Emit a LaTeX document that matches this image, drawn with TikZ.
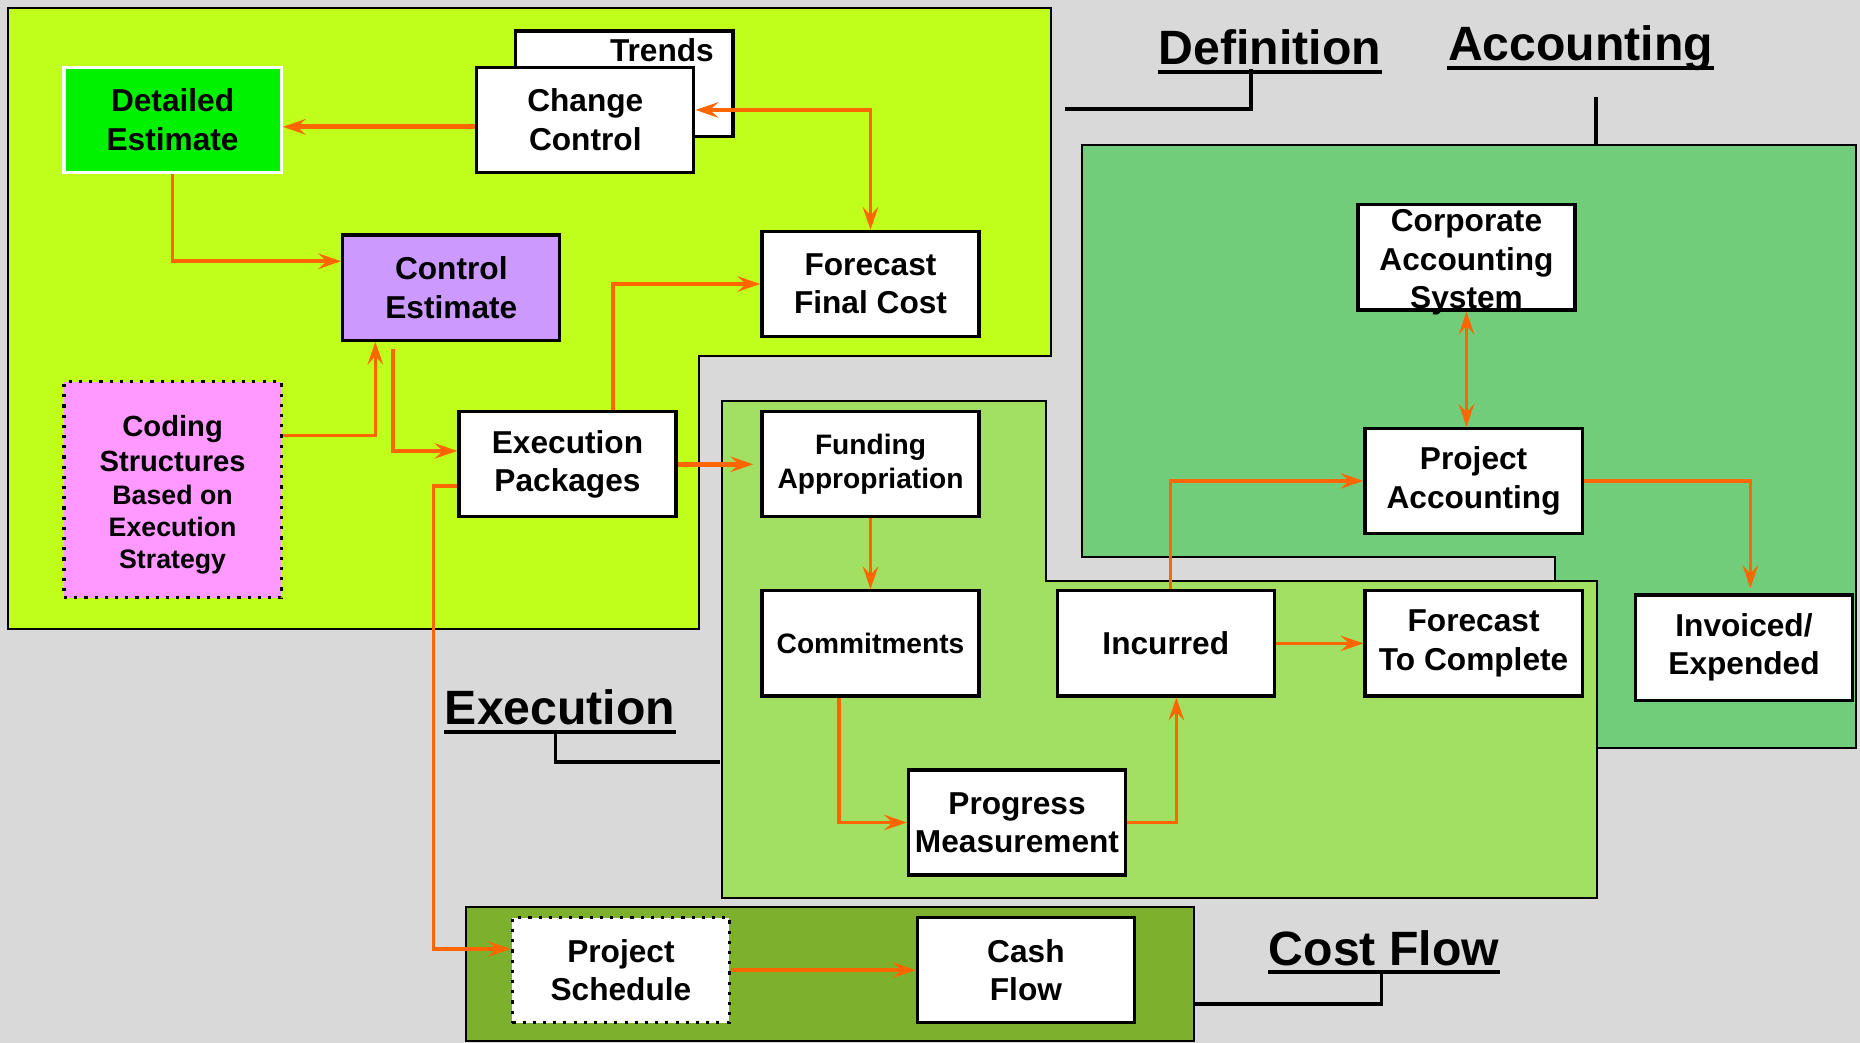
\documentclass[tikz,border=0pt]{standalone}
\usepackage{fontspec}
\setmainfont{Liberation Sans}
\usetikzlibrary{arrows.meta,calc}
\definecolor{fond}{RGB}{217,217,217}
\definecolor{zdef}{RGB}{192,255,28}
\definecolor{zacc}{RGB}{114,205,122}
\definecolor{zexe}{RGB}{162,224,100}
\definecolor{zcf}{RGB}{125,176,45}
\definecolor{vert}{RGB}{0,242,0}
\definecolor{lavande}{RGB}{204,153,255}
\definecolor{rose}{RGB}{255,153,255}
\definecolor{orange}{RGB}{255,102,0}
\newcommand{\boxfont}{\bfseries\fontsize{9}{10.9}\selectfont}
\newcommand{\petitfont}{\bfseries\fontsize{8}{9.7}\selectfont}
\newcommand{\codefont}{\bfseries\fontsize{7.6}{9.1}\selectfont}
\newcommand{\titrefont}{\bfseries\fontsize{13.7}{16}\selectfont}
\tikzset{zone/.style={draw=black, line width=0.7pt},
	box/.style={draw=black, line width=0.9pt, fill=white, minimum width=2.17cm, minimum height=1.05cm, inner sep=1pt, align=center, font=\boxfont},
	flow/.style={draw=orange, line width=1pt, -{Stealth[length=6.5pt,width=4.4pt,inset=2.4pt]}},
	flowboth/.style={flow, {Stealth[length=6.5pt,width=4.4pt,inset=2.4pt]}-{Stealth[length=6.5pt,width=4.4pt,inset=2.4pt]}},
	epais/.style={line width=1.35pt},
	titre/.style={font=\titrefont, inner sep=0pt},
	souligne/.style={line width=1.1pt},
	rappel/.style={line width=0.9pt}}

\begin{document}
\begin{tikzpicture}[x=0.01cm, y=-0.01cm]
	% fond gris
	\fill[fond] (0,0) rectangle (1860,1043);
	% les 4 zones
	\filldraw[zone, fill=zdef] (8,8) -- (1051,8) -- (1051,356) -- (699,356) -- (699,629) -- (8,629) -- cycle; % definition
	\filldraw[zone, fill=zacc] (1082,145) -- (1856,145) -- (1856,748) -- (1597,748) -- (1597,581) -- (1555,581) -- (1555,557) -- (1082,557) -- cycle; % accounting
	\filldraw[zone, fill=zexe] (722,401) -- (1046,401) -- (1046,581) -- (1597,581) -- (1597,898) -- (722,898) -- cycle; % execution
	\filldraw[zone, fill=zcf] (466,907) rectangle (1194,1041); % cost flow
	% les boites
	\node[box, fill=vert, draw=white] (de) at (172.6,119.8) {Detailed\\Estimate};
	\node[box] (tr) at (624.4,83.6) {};
	\node[anchor=north east, inner sep=0pt, font=\boxfont] (trt) at ([xshift=-5.7pt,yshift=-2.3pt]tr.north east) {Trends};
	\node[box] (cc) at (585.3,119.8) {Change\\Control};
	\node[box, fill=lavande] (ce) at (451.3,287.6) {Control\\Estimate};
	\node[box] (ffc) at (870.5,284) {Forecast\\Final Cost};
	\node[box, fill=rose, dotted, minimum height=2.16cm] (cs) at (172.6,489.8) {};
	\node[inner sep=0pt, align=center, font=\codefont] (cst) at ([yshift=-1.4pt]cs.center)
		{{\fontsize{8.3}{10}\selectfont Coding}\\[0.9pt]{\fontsize{8.3}{10}\selectfont Structures}\\[0.4pt]Based on\\Execution\\Strategy};
	\node[box] (ep) at (567.5,464.3) {Execution\\Packages};
	\node[box, font=\petitfont] (fa) at (870.5,464.3) {Funding\\Appropriation};
	\node[box, font=\petitfont] (cm) at (870.5,643.4) {Commitments};
	\node[box] (inc) at (1165.8,643.4) {Incurred};
	\node[box] (ftc) at (1473.6,643.4) {Forecast\\To Complete};
	\node[box] (pm) at (1017,822.5) {Progress\\Measurement};
	\node[box] (cas) at (1466.5,257.4) {};
	\node[inner sep=0pt, align=center, font=\boxfont] (cast) at ([yshift=-1.4pt]cas.center) {Corporate\\Accounting\\System};
	\node[box] (pa) at (1473.6,480.9) {Project\\Accounting};
	\node[box] (ie) at (1744,647.6) {Invoiced/\\Expended};
	\node[box, dotted] (ps) at (620.9,970.1) {Project\\Schedule};
	\node[box] (cf) at (1025.9,970.1) {Cash\\Flow};
	% les fleches
	\coordinate (c1) at ([yshift=-2pt]cc.west);
	\draw[flow, epais] (c1) -- (c1 -| de.east);
	\draw[flowboth] ([yshift=2.8pt]cc.east) -| (ffc.north);
	\draw[flow] (de.south) |- ([yshift=7.5pt]ce.west);
	\draw[flow] ([yshift=15.5pt]cs.east) -| ([xshift=-21.6pt]ce.south);
	\draw[flow] ([xshift=-16.6pt,yshift=-2pt]ce.south) |- ([yshift=3.8pt]ep.west);
	\draw[flow] ([xshift=12.9pt]ep.north) |- (ffc.west);
	\draw[flow, epais, shorten >=2pt] (ep.east) -- (fa.west);
	\draw[flow] ([yshift=-6.2pt]ep.west) -- ++(-24,0) |- ([yshift=6pt]ps.west);
	\draw[flow] (fa.south) -- (cm.north);
	\draw[flow] ([xshift=-9pt]cm.south) |- (pm.west);
	\draw[flow] (pm.east) -| ([xshift=3pt]inc.south);
	\draw[flow] (inc.east) -- (ftc.west);
	\draw[flow] ([xshift=1.4pt]inc.north) |- (pa.west);
	\draw[flowboth] (cas.south) -- (cas.south |- pa.north);
	\draw[flow, shorten >=1.5pt] (pa.east) -| ([xshift=1.8pt]ie.north);
	\draw[flow, epais] (ps.east) -- (cf.west);
	% les titres soulignes
	\node[titre, anchor=base] (tdef) at (1270,65) {Definition};
	\node[titre, anchor=base] (tacc) at (1580.5,61) {Accounting};
	\node[titre, anchor=base] (texe) at (560,725) {Execution};
	\node[titre, anchor=base] (tcf) at (1384,965) {Cost Flow};
	\foreach \t in {tdef,tacc,texe,tcf}
		\draw[souligne] ([yshift=-2pt]\t.base west) -- ([yshift=-2pt]\t.base east);
	% les traits de rappel
	\coordinate (kdef) at (1065,109);
	\draw[rappel] (kdef) -| ([xshift=-5.4pt,yshift=-1pt]tdef.base);
	\coordinate (kacc) at (1596,97);
	\coordinate (kacc2) at (1596,145);
	\draw[rappel] (kacc) -- (kacc2);
	\coordinate (kexe) at (720,762);
	\draw[rappel] ([xshift=-1.4pt,yshift=-2pt]texe.base) |- (kexe);
	\coordinate (kcf) at (1195,1004);
	\draw[rappel] ([xshift=-0.7pt,yshift=-2pt]tcf.base) |- (kcf);
\end{tikzpicture}
\end{document}
